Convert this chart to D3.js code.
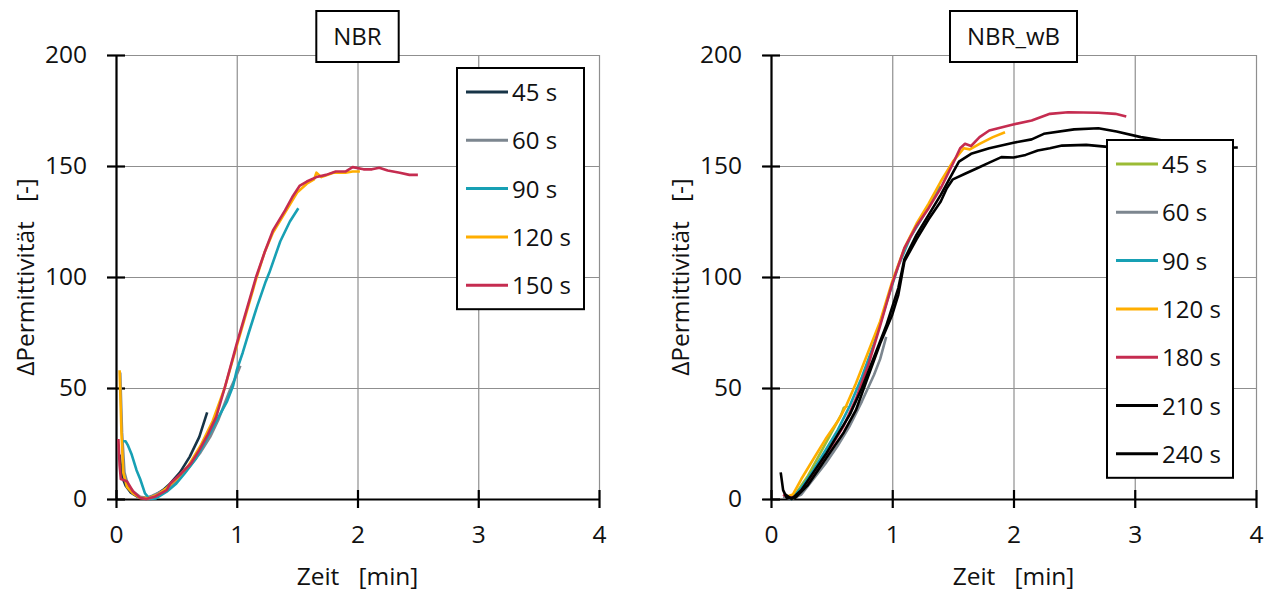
<!DOCTYPE html>
<html>
<head>
<meta charset="utf-8">
<script src="https://cdn.jsdelivr.net/npm/d3@7"></script>
<style>
  body { margin: 0; background: #fff; }
  text { font-family: "Open Sans", sans-serif; fill: #111; }
</style>
</head>
<body>
<div id="graph_div"></div>
<script>
// ---- data: [time in min, delta permittivity] ----
var nbr45 = [[0.03,20],[0.05,10],[0.08,6],[0.12,3],[0.18,1],[0.25,0.3],[0.32,1.5],[0.4,4.5],[0.45,7],[0.53,12],[0.61,19],[0.69,28],[0.755,39]];
var nbr60 = [[0.035,57],[0.05,30],[0.07,12],[0.1,6],[0.15,3],[0.2,1],[0.25,0.5],[0.3,1.5],[0.4,4],[0.5,8],[0.6,14],[0.7,21],[0.78,28],[0.85,36],[0.9,43],[0.95,50],[1.0,56],[1.03,60]];
var nbr90 = [[0.05,26],[0.08,26],[0.1,24],[0.13,20],[0.17,13],[0.2,9],[0.24,2.5],[0.28,0],[0.33,0.3],[0.42,3.3],[0.5,7],[0.57,11.6],[0.66,18],[0.75,27],[0.85,37],[0.92,44],[0.97,51],[1.0,58],[1.05,66],[1.1,75],[1.17,87],[1.24,98],[1.27,102],[1.36,116],[1.44,125],[1.51,131]];
var nbr120 = [[0.03,58],[0.045,30],[0.06,12],[0.09,5.5],[0.14,2.5],[0.2,0.5],[0.27,0.3],[0.35,2],[0.42,5],[0.5,9],[0.6,15],[0.7,24],[0.8,35],[0.9,50],[1.0,69],[1.08,84],[1.16,99],[1.23,111],[1.3,120],[1.4,129],[1.5,138],[1.58,142],[1.64,144],[1.66,147],[1.7,145],[1.8,147],[1.9,147],[1.96,147.5],[2.02,147.5]];
var nbr150 = [[0.02,27],[0.03,15],[0.04,9],[0.09,8],[0.14,3.5],[0.2,0.5],[0.25,0],[0.32,1],[0.42,4],[0.45,7],[0.54,11.5],[0.62,16],[0.69,22],[0.76,29],[0.83,37],[0.9,50],[0.96,62],[1.0,70],[1.08,85],[1.16,100],[1.23,111],[1.3,121],[1.4,130],[1.46,136],[1.52,141],[1.58,143],[1.66,145],[1.74,146],[1.82,147.5],[1.9,147.5],[1.96,149.5],[2.05,148.5],[2.12,148.5],[2.18,149.2],[2.25,148],[2.35,147],[2.43,146],[2.5,146]];

var wb45 = [[0.12,1],[0.18,0.5],[0.3,10],[0.4,20],[0.5,30],[0.58,38],[0.6,41],[0.63,42]];
var wb60 = [[0.1,1],[0.17,0],[0.25,2],[0.35,9],[0.45,16],[0.55,24],[0.65,33],[0.75,44],[0.85,56],[0.9,63],[0.95,73]];
var wb90 = [[0.12,1],[0.17,0],[0.25,5],[0.35,13],[0.45,22],[0.55,31],[0.65,42],[0.75,55],[0.85,70],[0.95,88],[1.05,105],[1.15,118],[1.25,127],[1.35,137],[1.39,141]];
var wb120 = [[0.13,1],[0.18,2],[0.25,9],[0.35,18],[0.45,27],[0.55,35],[0.62,42],[0.7,52],[0.8,66],[0.9,80],[1.0,98],[1.1,113],[1.2,124],[1.3,133],[1.4,143],[1.5,152],[1.59,158],[1.64,157.5],[1.72,160],[1.83,163],[1.93,165.2]];
var wb180 = [[0.1,2],[0.15,0.5],[0.2,1],[0.3,7],[0.4,15],[0.5,24],[0.6,33],[0.7,45],[0.8,60],[0.9,78],[1.0,97],[1.1,113],[1.2,123],[1.3,131],[1.4,140],[1.5,151],[1.56,158],[1.6,160],[1.65,159],[1.72,163],[1.8,166],[1.98,168.5],[2.15,170.5],[2.3,173.5],[2.45,174.2],[2.7,174],[2.84,173.5],[2.93,172.3]];
var wb210 = [[0.12,2],[0.17,0],[0.25,4],[0.35,12],[0.45,20],[0.55,29],[0.65,38],[0.75,50],[0.85,64],[0.95,78],[1.05,95],[1.1,108],[1.2,119],[1.3,128],[1.4,137],[1.5,147],[1.55,152],[1.65,155.5],[1.8,158],[2.0,160.5],[2.15,162],[2.25,164.5],[2.5,166.5],[2.7,167],[2.85,165.5],[3.05,163],[3.4,160]];
var wb240 = [[0.08,12],[0.1,4],[0.13,0.5],[0.2,0.5],[0.3,6],[0.4,14],[0.5,22],[0.6,30],[0.7,40],[0.8,55],[0.9,70],[1.0,83],[1.05,92],[1.1,107],[1.2,117],[1.3,126],[1.4,134],[1.45,140],[1.5,144],[1.6,146.5],[1.7,149],[1.8,151.5],[1.9,154],[2.0,153.8],[2.1,155],[2.2,157],[2.3,158],[2.4,159.2],[2.6,159.5],[2.8,158.5],[3.0,157.5],[3.5,158],[3.85,158.3]];

var nbrLabels = ['45 s', '60 s', '90 s', '120 s', '150 s'];
var nbrColors = ['#173447', '#7c868f', '#17a0b4', '#ffae00', '#c52c50'];
var wbLabels = ['45 s', '60 s', '90 s', '120 s', '180 s', '210 s', '240 s'];
var wbColors = ['#9bbb35', '#7c868f', '#17a0b4', '#ffae00', '#c52c50', '#000000', '#000000'];

var xTicks = [0, 1, 2, 3, 4];
var yTicks = [0, 50, 100, 150, 200];

var svg = d3.select('#graph_div').append('svg')
    .attr('width', 1264)
    .attr('height', 593);

function makePanel(series, labels, colors, title, box, legendBox) {
  var xScale = d3.scaleLinear().domain([0, 4]).range([box.left, box.right]);
  var yScale = d3.scaleLinear().domain([0, 200]).range([box.bottom, box.top]);
  var width = box.right - box.left, height = box.bottom - box.top;

  var g = svg.append('g');

  // grid
  g.append('g')
    .attr('transform', `translate(0, ${box.bottom})`)
    .call(d3.axisBottom(xScale).tickValues(xTicks).tickSize(-height).tickFormat(''))
    .call(s => s.select('.domain').remove())
    .selectAll('line').attr('stroke', '#8f8f8f').attr('stroke-width', 1.2);
  g.append('g')
    .attr('transform', `translate(${box.left}, 0)`)
    .call(d3.axisLeft(yScale).tickValues(yTicks).tickSize(-width).tickFormat(''))
    .call(s => s.select('.domain').remove())
    .selectAll('line').attr('stroke', '#8f8f8f').attr('stroke-width', 1.2);

  // axes with crossing ticks
  var xAx = g.append('g')
    .attr('transform', `translate(0, ${box.bottom})`)
    .call(d3.axisBottom(xScale).tickValues(xTicks).tickFormat(d3.format('d'))
          .tickSize(9).tickSizeOuter(0).tickPadding(18));
  xAx.selectAll('.tick line').attr('y1', -9).attr('y2', 9);
  var yAx = g.append('g')
    .attr('transform', `translate(${box.left}, 0)`)
    .call(d3.axisLeft(yScale).tickValues(yTicks).tickFormat(d3.format('d'))
          .tickSize(9).tickSizeOuter(0).tickPadding(20));
  yAx.selectAll('.tick line').attr('x1', 9).attr('x2', -9);
  [xAx, yAx].forEach(function (a) {
    a.select('.domain').attr('stroke', '#000').attr('stroke-width', 2.2);
    a.selectAll('.tick line').attr('stroke', '#000').attr('stroke-width', 2.2);
    a.selectAll('text').style('font-size', '24.5px').style('font-family', '"Open Sans", sans-serif').attr('fill', '#111');
  });

  // lines
  var valueLine = d3.line()
      .x(function (d) { return xScale(d[0]); })
      .y(function (d) { return yScale(d[1]); });
  series.forEach(function (s, i) {
    g.append('path')
      .datum(s)
      .attr('fill', 'none')
      .attr('stroke', colors[i])
      .attr('stroke-width', 2.6)
      .attr('stroke-linejoin', 'round')
      .attr('d', valueLine);
  });

  // axis titles
  var cx = (box.left + box.right) / 2;
  g.append('text')
    .attr('x', cx).attr('y', 585)
    .attr('text-anchor', 'middle')
    .style('font-size', '24.5px')
    .style('white-space', 'pre')
    .text('Zeit   [min]');
  g.append('text')
    .attr('transform', `translate(${box.left - 82}, ${(box.top + box.bottom) / 2}) rotate(-90)`)
    .attr('text-anchor', 'middle')
    .style('font-size', '24.5px')
    .style('white-space', 'pre')
    .text('ΔPermittivität   [-]');

  // title box
  var tb = g.append('g');
  var tt = tb.append('text')
    .attr('x', cx).attr('y', 45)
    .attr('text-anchor', 'middle')
    .style('font-size', '24px')
    .text(title);
  var tw = tt.node().getComputedTextLength();
  tb.insert('rect', 'text')
    .attr('x', cx - tw / 2 - 17).attr('y', 11)
    .attr('width', tw + 34).attr('height', 51)
    .attr('fill', '#fff').attr('stroke', '#000').attr('stroke-width', 2);

  // legend
  var lg = g.append('g');
  lg.append('rect')
    .attr('x', legendBox.x).attr('y', legendBox.y)
    .attr('width', legendBox.w).attr('height', 48.3 * (labels.length - 1) + 48)
    .attr('fill', '#fff').attr('stroke', '#000').attr('stroke-width', 2);
  labels.forEach(function (lab, i) {
    var yy = legendBox.y + 24 + i * 48.3;
    lg.append('line')
      .attr('x1', legendBox.x + 9).attr('x2', legendBox.x + 51)
      .attr('y1', yy).attr('y2', yy)
      .attr('stroke', colors[i]).attr('stroke-width', 3);
    lg.append('text')
      .attr('x', legendBox.x + 55).attr('y', yy + 9)
      .style('font-size', '24px')
      .text(lab);
  });
}

makePanel([nbr45, nbr60, nbr90, nbr120, nbr150], nbrLabels, nbrColors, 'NBR',
          {left: 116, right: 599, top: 55, bottom: 499},
          {x: 457, y: 68, w: 127});
makePanel([wb45, wb60, wb90, wb120, wb180, wb210, wb240], wbLabels, wbColors, 'NBR_wB',
          {left: 771, right: 1256, top: 55, bottom: 499},
          {x: 1107, y: 140, w: 126});
</script>
</body>
</html>
